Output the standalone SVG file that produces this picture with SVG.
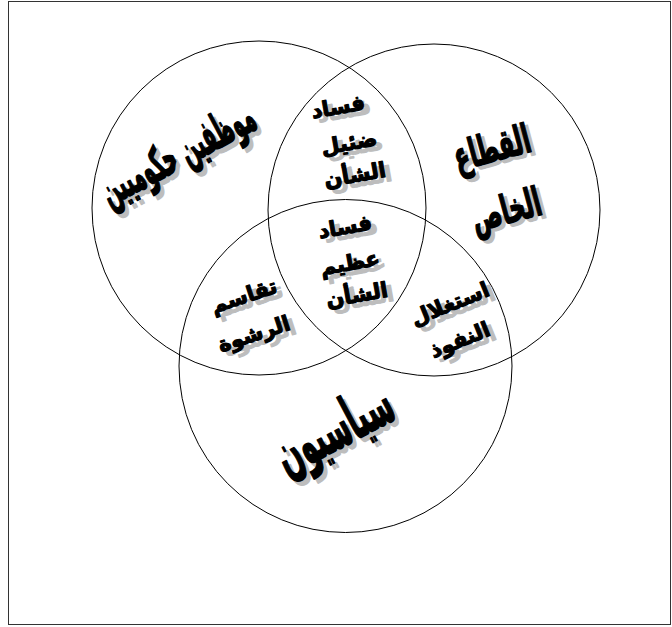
<svg xmlns="http://www.w3.org/2000/svg" width="672" height="627" viewBox="0 0 672 627">
<style>
.c{fill:none;stroke:#000;stroke-width:1}
.t{font-family:"DejaVu Sans","Noto Sans",sans-serif;font-weight:bold;text-anchor:middle;dominant-baseline:central;stroke-linejoin:round}
.m{fill:#000;stroke:#000}
.s{fill:#bdbdbd;stroke:#bdbdbd}
.sm{stroke-width:1.2}
.bg{stroke-width:1}
</style>
<rect x="0" y="0" width="672" height="627" fill="#fff"/>
<rect x="8.5" y="1.5" width="662" height="623" fill="none" stroke="#333" stroke-width="1"/>
<g id="connectors"></g>
<g id="circle-officials"><circle class="c" cx="259" cy="208" r="167"/></g>
<g id="circle-private"><circle class="c" cx="434" cy="210" r="166"/></g>
<g id="circle-politicians"><circle class="c" cx="345.5" cy="366" r="166.5"/></g>
<g id="label-officials" class="t bg" font-size="24">
<text class="s" transform="translate(181,157) rotate(-28) scale(0.8,1.9)">موظفين حكوميين</text>
<text class="m" transform="translate(177,153) rotate(-28) scale(0.8,1.9)">موظفين حكوميين</text>
</g>
<g id="label-private" class="t bg" font-size="25">
<text class="s" transform="translate(496,151) rotate(-15) scale(0.9,1.6)">القطاع</text>
<text class="m" transform="translate(492,148) rotate(-15) scale(0.9,1.6)">القطاع</text>
<text class="s" transform="translate(510,213) rotate(-15) scale(0.9,1.6)">الخاص</text>
<text class="m" transform="translate(506,210) rotate(-15) scale(0.9,1.6)">الخاص</text>
</g>
<g id="label-petty" class="t sm" font-size="21">
<text class="s" transform="translate(344,111) rotate(-10)">فساد</text>
<text class="m" transform="translate(338,107) rotate(-10)">فساد</text>
<text class="s" transform="translate(355,147) rotate(-10)">ضئيل</text>
<text class="m" transform="translate(349,143) rotate(-10)">ضئيل</text>
<text class="s" transform="translate(361,179) rotate(-10)">الشأن</text>
<text class="m" transform="translate(355,175) rotate(-10)">الشأن</text>
</g>
<g id="label-grand" class="t sm" font-size="21">
<text class="s" transform="translate(351,231) rotate(-10)">فساد</text>
<text class="m" transform="translate(345,227) rotate(-10)">فساد</text>
<text class="s" transform="translate(356,267) rotate(-10)">عظيم</text>
<text class="m" transform="translate(350,263) rotate(-10)">عظيم</text>
<text class="s" transform="translate(363,299) rotate(-10)">الشأن</text>
<text class="m" transform="translate(357,295) rotate(-10)">الشأن</text>
</g>
<g id="label-bribe" class="t sm" font-size="21">
<text class="s" transform="translate(250,300) rotate(-18)">تقاسم</text>
<text class="m" transform="translate(244,296) rotate(-18)">تقاسم</text>
<text class="s" transform="translate(260,338) rotate(-18)">الرشوة</text>
<text class="m" transform="translate(254,334) rotate(-18)">الرشوة</text>
</g>
<g id="label-influence" class="t sm" font-size="21">
<text class="s" transform="translate(456,308) rotate(-22)">استغلال</text>
<text class="m" transform="translate(450,304) rotate(-22)">استغلال</text>
<text class="s" transform="translate(466,344) rotate(-22)">النفوذ</text>
<text class="m" transform="translate(460,340) rotate(-22)">النفوذ</text>
</g>
<g id="label-politicians" class="t bg" font-size="32">
<text class="s" transform="translate(337,432) rotate(-28) scale(0.85,1.9)">سياسيون</text>
<text class="m" transform="translate(333,428) rotate(-28) scale(0.85,1.9)">سياسيون</text>
</g>
</svg>
